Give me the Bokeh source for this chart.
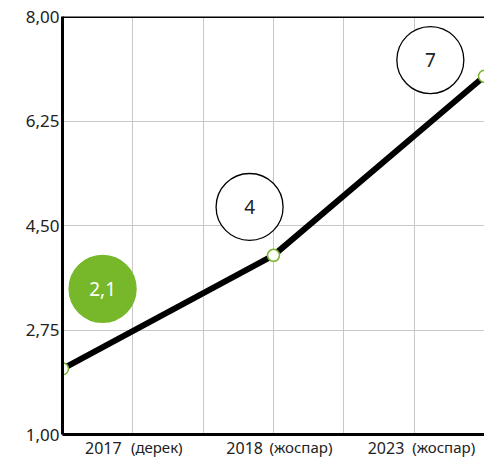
from bokeh.plotting import figure
from bokeh.models import (ColumnDataSource, FixedTicker, LinearAxis, Span)
from bokeh.core.properties import value
from bokeh.embed import file_html
from bokeh.resources import INLINE

# ---- data ----
years = ["2017", "2018", "2023"]
notes = ["(дерек)", "(жоспар)", "(жоспар)"]
values = [2.1, 4.0, 7.0]
value_labels = ["2,1", "4", "7"]
point_x = [0, 3, 6]           # position of each year on the grid
grid_x = [0, 1, 2, 3, 4, 5, 6]
y_ticks = [1.00, 2.75, 4.50, 6.25, 8.00]
y_tick_labels = ["1,00", "2,75", "4,50", "6,25", "8,00"]

# ---- caption placement (data units along x) ----
year_label_x = [0.58, 2.59, 4.60]
note_label_x = [1.34, 3.39, 5.42]

# ---- layout of the value bubbles (annotation placement, data units) ----
bubble_x = [0.57, 2.66, 5.23]
bubble_y = [3.44, 4.81, 7.27]
bubble_fill = ["#76b82a", "white", "white"]
bubble_line = ["#76b82a", "black", "black"]
bubble_text_color = ["white", "#222222", "#222222"]

FONT = "Noto Sans"
TXT = "#222222"

p = figure(width=484, height=460, x_range=(0, 6), y_range=(y_ticks[0], y_ticks[-1]),
           output_backend="svg", toolbar_location=None,
           min_border_left=62, min_border_right=0, min_border_top=16, min_border_bottom=26)
p.outline_line_color = None
p.background_fill_color = "white"

# bottom axis: line + year captions
xa = p.xaxis[0]
xa.ticker = FixedTicker(ticks=year_label_x)
xa.major_label_overrides = {t: s for t, s in zip(year_label_x, years)}
xa.major_label_text_font = FONT
xa.major_label_text_font_size = "16px"
xa.major_label_text_color = TXT
xa.major_tick_line_color = None
xa.minor_tick_line_color = None
xa.major_tick_out = 0
xa.major_tick_in = 0
xa.major_label_standoff = 7
xa.axis_line_width = 3
xa.axis_line_color = "black"

# second bottom axis: the notes, pulled up onto the same row
na = LinearAxis(ticker=FixedTicker(ticks=note_label_x),
                major_label_overrides={t: s for t, s in zip(note_label_x, notes)},
                major_label_text_font=FONT, major_label_text_font_size="15px",
                major_label_text_color=TXT, major_tick_line_color=None,
                minor_tick_line_color=None, major_tick_out=0, major_tick_in=0,
                axis_line_color=None, major_label_standoff=-20)
p.add_layout(na, "below")

p.yaxis.ticker = FixedTicker(ticks=y_ticks)
p.yaxis.major_label_overrides = {t: l for t, l in zip(y_ticks, y_tick_labels)}
p.yaxis.major_label_text_font = FONT
p.yaxis.major_label_text_font_size = "17px"
p.yaxis.major_label_text_color = TXT
p.yaxis.major_tick_line_color = None
p.yaxis.minor_tick_line_color = None
p.yaxis.major_tick_out = 0
p.yaxis.major_tick_in = 0
p.yaxis.major_label_standoff = 3
p.yaxis.axis_line_width = 3
p.yaxis.axis_line_color = "black"

p.xgrid.ticker = FixedTicker(ticks=grid_x)
p.grid.grid_line_color = "#c8c8c8"
p.grid.grid_line_width = 1

# top border
p.add_layout(Span(location=y_ticks[-1], dimension="width", line_color="black", line_width=3))

# line + points
src = ColumnDataSource(dict(x=point_x, y=values))
p.line("x", "y", source=src, line_color="black", line_width=6)
p.scatter("x", "y", source=src, size=12, fill_color="white", line_color="#7ab32e", line_width=1.5)

# bubbles
bsrc = ColumnDataSource(dict(x=bubble_x, y=bubble_y, t=value_labels, f=bubble_fill,
                             l=bubble_line, c=bubble_text_color))
p.scatter("x", "y", source=bsrc, size=67, fill_color="f", line_color="l", line_width=1.3)
p.text("x", "y", text="t", source=bsrc, text_color="c", text_align="center",
       text_baseline="middle", text_font=value(FONT), text_font_size="19px")

open("out.html", "w").write(file_html(p, INLINE))
